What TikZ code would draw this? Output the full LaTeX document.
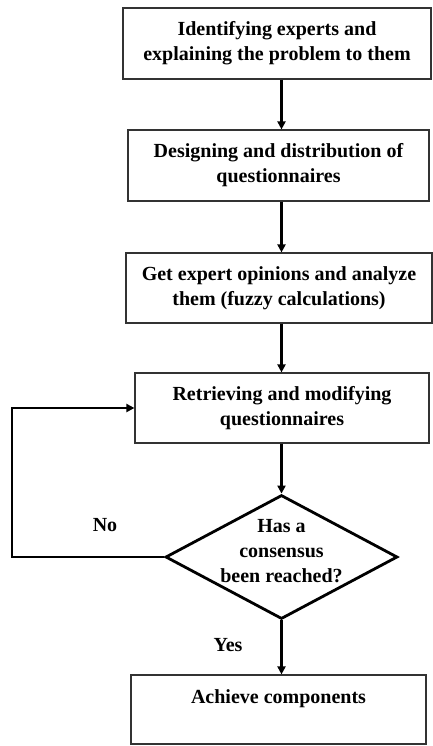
\documentclass[tikz,border=0pt]{standalone}
\usepackage{fontspec}
\setmainfont{Liberation Serif}
\usetikzlibrary{shapes.geometric,arrows.meta}

\begin{document}
\begin{tikzpicture}[x=1pt,y=-1pt,
		font=\fontsize{20}{25}\selectfont\bfseries,
		box/.style={draw=black!80,line width=1.2pt,align=center,inner sep=0},
		decision/.style={diamond,draw,line width=2.8pt,minimum width=232pt,minimum height=124pt,inner sep=0},
		flow/.style={line width=2.6pt,-{Triangle[length=8pt,width=8pt]}}]
		\useasboundingbox (0,0) rectangle (433,746);
		% process boxes
		\node[box,minimum width=308pt,minimum height=71pt] (id) at (277,43.5) {Identifying experts and\\explaining the problem to them};
		\node[box,minimum width=301pt,minimum height=71pt] (des) at (278.5,165.5) {Designing and distribution of\\questionnaires};
		\node[box,minimum width=306pt,minimum height=70pt] (get) at (279,288) {Get expert opinions and analyze\\them (fuzzy calculations)};
		\node[box,minimum width=294pt,minimum height=70pt] (ret) at (282,408) {Retrieving and modifying\\questionnaires};
		\node[decision] (cons) at (281.5,557) {};
		\node[align=center,inner sep=0] (constext) at (281.5,551) {Has a\\consensus\\been reached?};
		\node[box,minimum width=295pt,minimum height=69pt,text depth=25pt] (ach) at (278.5,709.5) {Achieve components};
		% labels
		\node (no) at (105,525) {No};
		\node (yes) at (228,645) {Yes};
		\coordinate (loop) at (12,557);
		% connectors
		\draw[flow] (id.south -| cons.north) -- (des.north -| cons.north);
		\draw[flow] (des.south -| cons.north) -- (get.north -| cons.north);
		\draw[flow] (get.south -| cons.north) -- (ret.north -| cons.north);
		\draw[flow] (ret.south -| cons.north) -- (cons.north);
		\draw[flow] (cons.south) -- (ach.north -| cons.south);
		\draw[flow] (cons.west) -- (loop) |- (ret.west);
\end{tikzpicture}
\end{document}
